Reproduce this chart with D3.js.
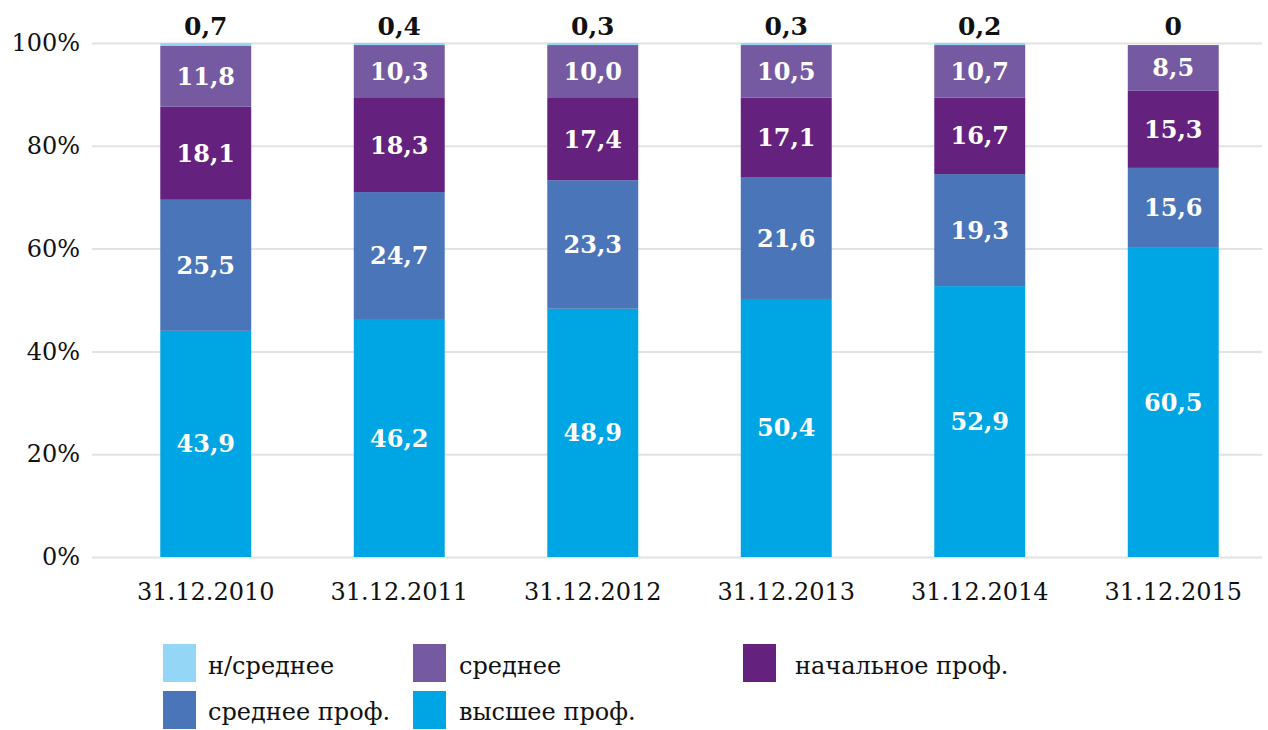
<!DOCTYPE html>
<html>
<head>
<meta charset="utf-8">
<script src="https://cdn.jsdelivr.net/npm/d3@7"></script>
<style>
  body { margin: 0; background: #fff; }
  text { font-family: "DejaVu Serif", serif; }
  .y.axis text, .x.axis text { font-size: 24px; fill: #111; }
  .y.axis line { stroke: #e2e2e2; stroke-width: 2; }
  .label { font-size: 24px; font-weight: bold; fill: #fff; }
  .toplabel { font-size: 25px; font-weight: bold; fill: #111; }
  .legend text { font-size: 24px; fill: #111; }
</style>
</head>
<body>
<script>
margin = {top: 43, right: 3, bottom: 173, left: 92};
const w = 1268 - margin.left - margin.right;
const h = 730 - margin.top - margin.bottom;

// shares by education level, % of total
const keys = ["high", "midprof", "primprof", "mid", "lowmid"];
const names = {
    lowmid: "н/среднее",
    mid: "среднее",
    primprof: "начальное проф.",
    midprof: "среднее проф.",
    high: "высшее проф."
};
const colors = {
    high: "#00a6e3",
    midprof: "#4a75b8",
    primprof: "#65217e",
    mid: "#7559a1",
    lowmid: "#93d6f6"
};
// bar heights as drawn in the chart
const dataset = [
    {date: "31.12.2010", high: 44.0, midprof: 25.5, primprof: 18.1, mid: 11.9, lowmid: 0.5},
    {date: "31.12.2011", high: 46.3, midprof: 24.7, primprof: 18.3, mid: 10.3, lowmid: 0.4},
    {date: "31.12.2012", high: 48.3, midprof: 25.0, primprof: 16.0, mid: 10.3, lowmid: 0.4},
    {date: "31.12.2013", high: 50.2, midprof: 23.6, primprof: 15.6, mid: 10.2, lowmid: 0.4},
    {date: "31.12.2014", high: 52.7, midprof: 21.8, primprof: 14.9, mid: 10.2, lowmid: 0.4},
    {date: "31.12.2015", high: 60.3, midprof: 15.4, primprof: 15.0, mid: 8.9, lowmid: 0}
];
// printed values
const labels = {
    "31.12.2010": {high: "43,9", midprof: "25,5", primprof: "18,1", mid: "11,8", lowmid: "0,7"},
    "31.12.2011": {high: "46,2", midprof: "24,7", primprof: "18,3", mid: "10,3", lowmid: "0,4"},
    "31.12.2012": {high: "48,9", midprof: "23,3", primprof: "17,4", mid: "10,0", lowmid: "0,3"},
    "31.12.2013": {high: "50,4", midprof: "21,6", primprof: "17,1", mid: "10,5", lowmid: "0,3"},
    "31.12.2014": {high: "52,9", midprof: "19,3", primprof: "16,7", mid: "10,7", lowmid: "0,2"},
    "31.12.2015": {high: "60,5", midprof: "15,6", primprof: "15,3", mid: "8,5", lowmid: "0"}
};

//Create SVG element
let svg = d3.select("body")
            .append("svg")
                .attr("width", w + margin.left + margin.right)
                .attr("height", h + margin.top + margin.bottom)
            .append("g")
                .attr("transform", "translate(" + margin.left + "," + margin.top + ")");

// ---------------------------//
//       AXIS  AND SCALE      //
// ---------------------------//

let x = d3.scaleBand()
        .domain(dataset.map(d => d.date))
        .range([17, 1178])
        .paddingInner(0.53)
        .paddingOuter(0.265);

let y = d3.scaleLinear()
        .domain([0, 100])
        .range([h, 0]);

// Y axis with gridlines
let yAxis = svg.append("g")
        .attr("class", "y axis")
        .call(d3.axisLeft(y)
            .tickValues([0, 20, 40, 60, 80, 100])
            .tickSize(-w + 3)
            .tickPadding(12)
            .tickFormat(d => d + "%"));
yAxis.select(".domain").remove();

// X axis
let xAxis = svg.append("g")
        .attr("class", "x axis")
        .attr("transform", "translate(0," + h + ")")
        .call(d3.axisBottom(x).tickSize(0).tickPadding(26));
xAxis.select(".domain").remove();

// ------------------//
//       BARS        //
// ------------------//

const series = d3.stack().keys(keys)(dataset);

const layers = svg.append("g")
    .selectAll("g")
    .data(series)
    .enter()
    .append("g")
        .style("fill", d => colors[d.key]);

layers.selectAll("rect")
    .data(d => d)
    .enter()
    .append("rect")
        .attr("x", d => x(d.data.date))
        .attr("y", d => y(d[1]))
        .attr("width", x.bandwidth())
        .attr("height", d => y(d[0]) - y(d[1]));

// Labels inside the segments (except the tiny top one)
series.filter(s => s.key !== "lowmid").forEach(s => {
    svg.append("g")
        .selectAll("text")
        .data(s)
        .enter()
        .append("text")
            .attr("class", "label")
            .attr("text-anchor", "middle")
            .attr("dominant-baseline", "central")
            .attr("x", d => x(d.data.date) + x.bandwidth() / 2)
            .attr("y", d => (y(d[0]) + y(d[1])) / 2)
            .text(d => labels[d.data.date][s.key]);
});

// Top labels for н/среднее
svg.append("g")
    .selectAll("text")
    .data(dataset)
    .enter()
    .append("text")
        .attr("class", "toplabel")
        .attr("text-anchor", "middle")
        .attr("x", d => x(d.date) + x.bandwidth() / 2)
        .attr("y", y(100) - 8)
        .text(d => labels[d.date].lowmid);

// ------------------//
//       LEGEND      //
// ------------------//

const legendItems = [
    {key: "lowmid", col: 0, row: 0},
    {key: "mid", col: 1, row: 0},
    {key: "primprof", col: 2, row: 0},
    {key: "midprof", col: 0, row: 1},
    {key: "high", col: 1, row: 1}
];
const colX = [163, 413, 743];
const textX = [208, 459, 795];

let legend = svg.append("g")
    .attr("class", "legend")
    .attr("transform", "translate(" + (-margin.left) + "," + (-margin.top) + ")");

legend.selectAll("rect")
    .data(legendItems)
    .enter()
    .append("rect")
        .attr("x", d => colX[d.col])
        .attr("y", d => 644 + d.row * 47)
        .attr("width", 33)
        .attr("height", 38)
        .style("fill", d => colors[d.key]);

legend.selectAll("text")
    .data(legendItems)
    .enter()
    .append("text")
        .attr("x", d => textX[d.col])
        .attr("y", d => 674 + d.row * 46)
        .text(d => names[d.key]);
</script>
</body>
</html>
